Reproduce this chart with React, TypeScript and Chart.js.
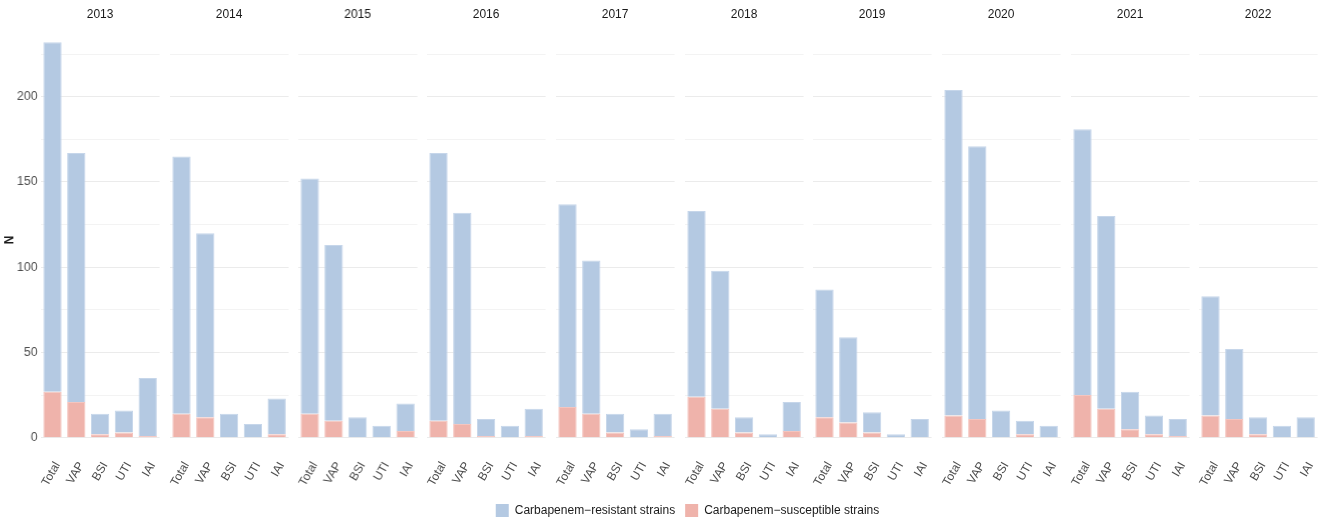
import React, { useEffect, useRef } from 'react';
import { Chart, registerables } from 'chart.js';

Chart.register(...registerables);

// values, one row per year
const years = ['2013', '2014', '2015', '2016', '2017', '2018', '2019', '2020', '2021', '2022'];
const infections = ['Total', 'VAP', 'BSI', 'UTI', 'IAI'];

const resistant = [
  [205, 146, 12, 13, 34],
  [151, 108, 14, 8, 21],
  [138, 103, 12, 7, 16],
  [157, 124, 10, 7, 16],
  [119, 90, 11, 5, 13],
  [109, 81, 9, 2, 17],
  [75, 50, 12, 2, 11],
  [191, 160, 16, 8, 7],
  [156, 113, 22, 11, 10],
  [70, 41, 10, 7, 12],
];

const susceptible = [
  [27, 21, 2, 3, 1],
  [14, 12, 0, 0, 2],
  [14, 10, 0, 0, 4],
  [10, 8, 1, 0, 1],
  [18, 14, 3, 0, 1],
  [24, 17, 3, 0, 4],
  [12, 9, 3, 0, 0],
  [13, 11, 0, 2, 0],
  [25, 17, 5, 2, 1],
  [13, 11, 2, 0, 0],
];

const gridValues = [0, 25, 50, 75, 100, 125, 150, 175, 200, 225];
const yTickLabels = [0, 50, 100, 150, 200];

const RESISTANT_LABEL = 'Carbapenem\u2212resistant strains';
const SUSCEPTIBLE_LABEL = 'Carbapenem\u2212susceptible strains';

const FONT = '"Liberation Sans", Arial, Helvetica, sans-serif';
const BLUE = '#B4C9E2';
const BLUE_EDGE = '#C6D6EA';
const PINK = '#EFB3AB';
const PINK_EDGE = '#F4C5BF';
const TEXT = '#1A1A1A';
const AXIS_TEXT = '#4D4D4D';

// layout of the facets
const PANEL_LEFT = 40.6;
const PANEL_STEP = 128.7;
const PANEL_WIDTH = 119;
const MARGIN = 40.6;
const CHART_HEIGHT = 495;
const PLOT_TOP = 22.4;
const PLOT_BOTTOM = 457.5;

const maxStack = Math.max(...resistant.flatMap((row, i) => row.map((v, j) => v + susceptible[i][j])));
const yMin = -0.05 * maxStack;
const yMax = 1.05 * maxStack;

const setGridTicks = (s: any) => {
  s.ticks = gridValues.map((v) => ({ value: v }));
};

function panelConfig(i: number): any {
  return {
    type: 'bar',
    data: {
      labels: infections,
      datasets: [
        {
          label: SUSCEPTIBLE_LABEL,
          data: susceptible[i],
          backgroundColor: PINK,
          borderColor: PINK_EDGE,
          borderWidth: 1,
        },
        {
          label: RESISTANT_LABEL,
          data: resistant[i],
          backgroundColor: BLUE,
          borderColor: BLUE_EDGE,
          borderWidth: 1,
        },
      ],
    },
    options: {
      animation: false,
      responsive: true,
      maintainAspectRatio: false,
      categoryPercentage: 1,
      barPercentage: 0.77,
      layout: { padding: { left: MARGIN, right: MARGIN, top: 0, bottom: 0 } },
      plugins: {
        legend: { display: false },
        tooltip: { enabled: false },
        title: {
          display: true,
          text: years[i],
          color: TEXT,
          font: { size: 12, family: FONT, weight: 'normal' },
          padding: { top: 7.4, bottom: PLOT_TOP - 14.4 - 7.4 },
        },
      },
      scales: {
        x: {
          stacked: true,
          grid: { display: false, drawTicks: false },
          border: { display: false },
          ticks: {
            autoSkip: false,
            minRotation: 60,
            maxRotation: 60,
            padding: 2,
            labelOffset: 5,
            color: AXIS_TEXT,
            font: { size: 12, family: FONT },
          },
          afterFit: (s: any) => {
            s.paddingLeft = 0;
            s.paddingRight = 0;
            s.height = CHART_HEIGHT - PLOT_BOTTOM;
          },
        },
        y: {
          stacked: true,
          min: yMin,
          max: yMax,
          afterBuildTicks: setGridTicks,
          grid: {
            drawTicks: false,
            lineWidth: 1,
            color: (ctx: any) => (yTickLabels.includes(ctx.tick.value) ? '#EBEBEB' : '#F3F3F3'),
          },
          border: { display: false },
          ticks: { display: false },
          afterFit: (s: any) => {
            s.width = 0;
            s.paddingTop = 0;
            s.paddingBottom = 0;
          },
        },
      },
    },
  };
}

// shared y axis on the left of the first facet
function axisConfig(): any {
  return {
    type: 'bar',
    data: { labels: [], datasets: [] },
    options: {
      animation: false,
      responsive: true,
      maintainAspectRatio: false,
      layout: { padding: { left: 0, right: 0, top: PLOT_TOP, bottom: CHART_HEIGHT - PLOT_BOTTOM } },
      plugins: { legend: { display: false }, tooltip: { enabled: false } },
      scales: {
        x: { display: false },
        y: {
          min: yMin,
          max: yMax,
          afterBuildTicks: setGridTicks,
          grid: { display: false, drawTicks: false },
          border: { display: false },
          ticks: {
            padding: 4,
            color: AXIS_TEXT,
            font: { size: 12, family: FONT },
            callback: (v: number) => (yTickLabels.includes(v) ? String(v) : ''),
          },
          title: {
            display: true,
            text: 'N',
            color: TEXT,
            font: { size: 12, family: FONT, weight: 'bold' },
            padding: { top: 2, bottom: 0 },
          },
          afterFit: (s: any) => {
            s.width = PANEL_LEFT;
            s.paddingTop = 0;
            s.paddingBottom = 0;
          },
        },
      },
    },
  };
}

function legendConfig(): any {
  return {
    type: 'bar',
    data: {
      labels: [],
      datasets: [
        { label: RESISTANT_LABEL, data: [], backgroundColor: BLUE, borderWidth: 0 },
        { label: SUSCEPTIBLE_LABEL, data: [], backgroundColor: PINK, borderWidth: 0 },
      ],
    },
    options: {
      animation: false,
      responsive: true,
      maintainAspectRatio: false,
      layout: { padding: 0 },
      scales: { x: { display: false }, y: { display: false } },
      plugins: {
        tooltip: { enabled: false },
        legend: {
          display: true,
          position: 'top',
          labels: {
            boxWidth: 13,
            boxHeight: 13,
            padding: 10,
            color: TEXT,
            font: { size: 12, family: FONT },
          },
        },
      },
    },
  };
}

export default function App() {
  const panelRefs = useRef<(HTMLCanvasElement | null)[]>([]);
  const axisRef = useRef<HTMLCanvasElement>(null);
  const legendRef = useRef<HTMLCanvasElement>(null);

  useEffect(() => {
    const charts: Chart[] = [];
    years.forEach((_, i) => {
      const canvas = panelRefs.current[i];
      if (canvas) charts.push(new Chart(canvas, panelConfig(i)));
    });
    if (axisRef.current) charts.push(new Chart(axisRef.current, axisConfig()));
    if (legendRef.current) charts.push(new Chart(legendRef.current, legendConfig()));
    return () => charts.forEach((c) => c.destroy());
  }, []);

  return (
    <div
      style={{
        position: 'fixed',
        left: 0,
        top: 0,
        width: 1325,
        height: 529,
        overflow: 'hidden',
        background: '#FFFFFF',
      }}
    >
      {years.map((year, i) => (
        <div
          key={year}
          style={{
            position: 'absolute',
            left: PANEL_LEFT + i * PANEL_STEP - MARGIN,
            top: 0,
            width: PANEL_WIDTH + 2 * MARGIN,
            height: CHART_HEIGHT,
          }}
        >
          <canvas ref={(el) => { panelRefs.current[i] = el; }} />
        </div>
      ))}
      <div style={{ position: 'absolute', left: 0, top: 0, width: PANEL_LEFT + 1, height: CHART_HEIGHT }}>
        <canvas ref={axisRef} />
      </div>
      <div style={{ position: 'absolute', left: 50, top: 494, width: 1275, height: 80 }}>
        <canvas ref={legendRef} />
      </div>
    </div>
  );
}
